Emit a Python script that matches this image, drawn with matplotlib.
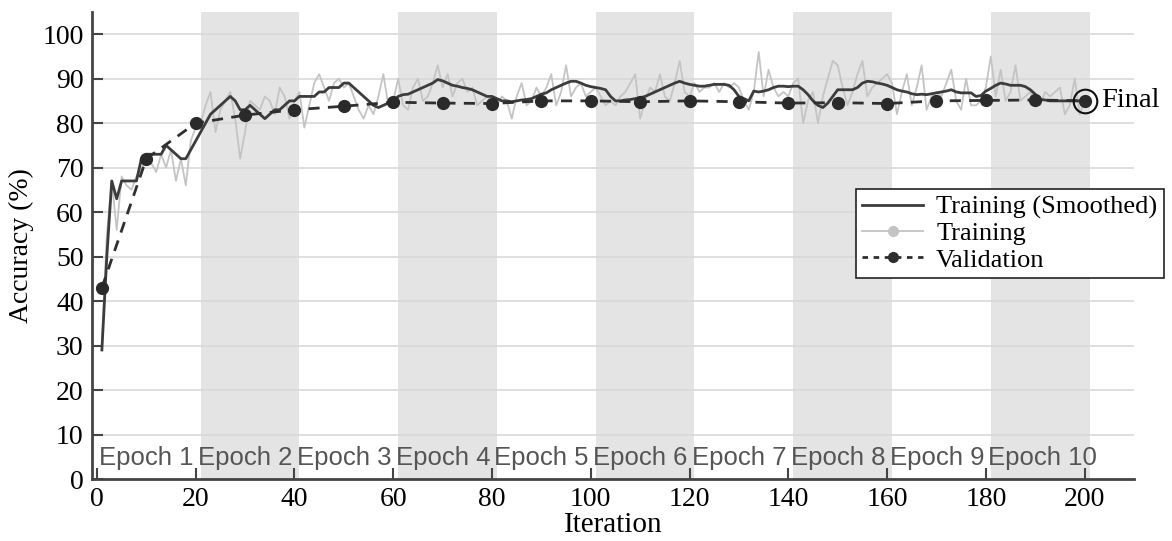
import matplotlib
matplotlib.use("Agg")
import matplotlib.pyplot as plt
from matplotlib.lines import Line2D

# raw training accuracy, iterations 1..200
train = [30, 55, 67, 56, 68, 66, 65, 68, 70, 71,
         71, 69, 73, 70, 74, 67, 72, 66, 76, 79,
         80, 84, 87, 78, 83, 85, 87, 81, 72, 78,
         85, 84, 83, 86, 85, 82, 88, 86, 81, 85,
         87, 79, 84, 89, 91, 88, 85, 89, 90, 88,
         89, 86, 83, 81, 84, 82, 86, 91, 84, 85,
         90, 84, 83, 88, 90, 85, 86, 89, 93, 88,
         91, 86, 89, 90, 87, 88, 84, 85, 86, 85,
         84, 86, 85, 81, 86, 89, 84, 85, 88, 86,
         88, 91, 84, 87, 93, 86, 88, 89, 86, 87,
         88, 86, 84, 85, 84, 86, 87, 89, 91, 81,
         85, 88, 87, 91, 86, 85, 89, 94, 87, 86,
         89, 87, 88, 88, 89, 87, 89, 88, 89, 88,
         85, 83, 87, 96, 86, 92, 88, 86, 87, 86,
         89, 90, 80, 85, 87, 80, 86, 90, 94, 93,
         88, 84, 87, 91, 94, 86, 88, 89, 90, 91,
         89, 82, 87, 91, 84, 88, 93, 83, 86, 87,
         86, 89, 92, 85, 83, 90, 84, 84, 85, 88,
         95, 86, 92, 85, 87, 93, 85, 86, 87, 85,
         84, 87, 86, 87, 88, 82, 84, 90, 82, 85]

# smoothed training accuracy, iterations 1..200
smooth = [29, 50, 67, 63, 67, 67, 67, 67, 72, 73,
          73, 73, 73, 75, 74, 73, 72, 72, 74, 76,
          78, 80, 82, 83, 84, 85, 86, 85, 83, 83,
          84, 83, 82, 81, 82, 83, 83, 84, 85, 85,
          86, 86, 86, 86, 87, 87, 88, 88, 88, 89,
          89, 88, 87, 86, 85, 84, 83.5, 84, 84.5, 85,
          86, 86.4, 86.5, 87, 87.5, 88, 88.5, 89, 89.8, 89.5,
          89, 88.5, 88.3, 88, 87.8, 87.5, 87, 86.5, 86, 86,
          85.5, 85, 85, 84.8, 85, 85.2, 85.3, 85.5, 86, 86.5,
          86.8, 87.5, 88, 88.5, 89, 89.4, 89.4, 89, 88.5, 88.2,
          88, 87.8, 87.5, 86, 85, 85, 85.2, 85.3, 85.5, 85.7,
          86, 86.5, 87, 87.5, 88, 88.5, 89, 89.4, 89, 88.7,
          88.5, 88.3, 88.3, 88.5, 88.7, 88.7, 88.7, 88.5, 87.5, 86,
          85.5, 85, 87.2, 87, 87.2, 87.5, 88, 88.3, 88.3, 88.2,
          88.3, 88.3, 87.5, 86.4, 85, 84, 83.5, 84.5, 86, 87.5,
          87.5, 87.5, 87.5, 88, 89, 89.4, 89.3, 89, 88.8, 88.5,
          88, 87.5, 87.2, 87, 86.6, 86.4, 86.5, 86.4, 86.6, 86.8,
          87, 87.2, 87.5, 87, 86.8, 86.8, 86.8, 86, 86.2, 87.2,
          87.8, 88.5, 89, 88.8, 88.5, 88.5, 88.5, 88.2, 87.5, 86.5,
          85.3, 85.2, 85, 85, 85, 85, 85, 85, 85, 85]

val_iter = [1, 10, 20, 30, 40, 50, 60, 70, 80, 90, 100,
            110, 120, 130, 140, 150, 160, 170, 180, 190, 200]
val_acc = [43, 72, 80, 81.8, 83, 83.8, 84.7, 84.5, 84.4, 85, 85,
           84.8, 85, 84.8, 84.5, 84.6, 84.4, 85, 85.1, 85.2, 85]

epochs = ["Epoch %d" % k for k in range(1, 11)]

iters = list(range(1, len(train) + 1))

serif = "Liberation Serif"
sans = "Liberation Sans"

fig = plt.figure(figsize=(11.72, 5.41), dpi=100)
ax = fig.add_axes([0.0785, 0.1146, 0.8895, 0.8634])

# shaded epochs
for k in range(1, 10, 2):
    ax.axvspan(20 * k + 1, 20 * (k + 1) + 1, color="#e4e4e4", lw=0, zorder=0)

for y in range(10, 101, 10):
    ax.axhline(y, color="#d9d9d9", lw=1.2, zorder=1)

ax.plot(iters, train, color="#c4c4c4", lw=1.3, zorder=2)
ax.plot(iters, smooth, color="#3c3c3c", lw=2, zorder=3)
ax.plot(val_iter, val_acc, color="#2f2f2f", lw=2, ls=(0, (4, 3)),
        marker="o", ms=8.5, mfc="#2a2a2a", mec="#2a2a2a", zorder=4)

# final point
ax.plot(val_iter[-1], val_acc[-1], "o", ms=17, mfc="none", mec="#111111",
        mew=1.5, zorder=5)
ax.text(val_iter[-1] + 3.3, val_acc[-1], "Final", fontsize=20.5, family=serif,
        va="center", ha="left", zorder=6)

for k, lab in enumerate(epochs):
    ax.text(20 * k + 0.5, 4.8, lab, fontsize=18.5, family=sans,
            color="#555555", va="center", ha="left", zorder=6)

ax.set_xlim(-1, 210.1)
ax.set_ylim(0, 105)
ax.set_xticks(range(0, 201, 20))
ax.set_yticks(range(0, 101, 10))
ax.tick_params(direction="in", length=8, width=1.5, color="#444444",
               labelsize=20, pad=6)
for t in ax.get_xticklabels() + ax.get_yticklabels():
    t.set_family(serif)

for s in ["top", "right"]:
    ax.spines[s].set_visible(False)
for s in ["left", "bottom"]:
    ax.spines[s].set_color("#444444")
    ax.spines[s].set_linewidth(2)

ax.set_xlabel("Iteration", fontsize=21, family=serif, labelpad=0)
ax.set_ylabel("Accuracy (%)", fontsize=20, family=serif, labelpad=6)

handles = [
    Line2D([], [], color="#3c3c3c", lw=2),
    Line2D([], [], color="#c4c4c4", lw=1.3, marker="o", ms=7),
    Line2D([], [], color="#2f2f2f", lw=2, ls=(0, (2, 2)), marker="o", ms=7),
]
leg = fig.legend(handles, ["Training (Smoothed)", "Training", "Validation"],
                 loc="upper right", bbox_to_anchor=(0.993, 0.651),
                 bbox_transform=fig.transFigure, borderaxespad=0,
                 fancybox=False, framealpha=1, edgecolor="#222222",
                 prop={"family": serif, "size": 19}, labelspacing=0.1,
                 handlelength=2.3, handletextpad=0.5, borderpad=0.25)
leg.get_frame().set_linewidth(1.2)

fig.savefig("out.png", dpi=100)
